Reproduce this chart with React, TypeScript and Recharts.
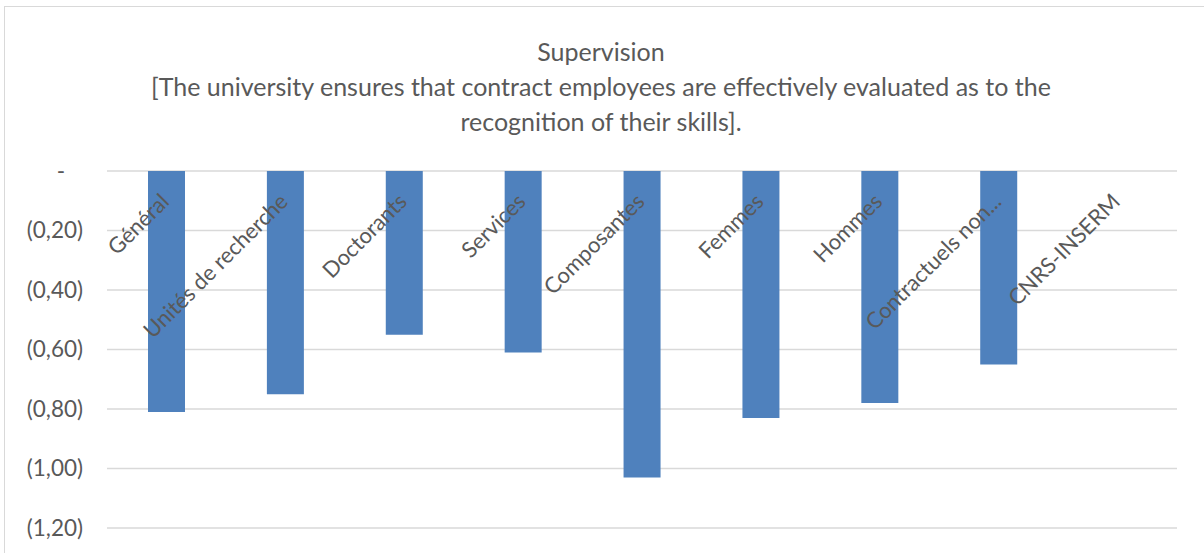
import React from "react";
import { BarChart, Bar, XAxis, YAxis, CartesianGrid } from "recharts";

const categories = [
  "Général",
  "Unités de recherche",
  "Doctorants",
  "Services",
  "Composantes",
  "Femmes",
  "Hommes",
  "Contractuels non...",
  "CNRS-INSERM",
];
const scores = [-0.81, -0.75, -0.55, -0.61, -1.03, -0.83, -0.78, -0.65, 0];
const yTicks = [0, -0.2, -0.4, -0.6, -0.8, -1.0, -1.2];
const titleLines = [
  "Supervision",
  "[The university ensures that contract employees are effectively evaluated as to the",
  "recognition of their skills].",
];

const data = categories.map((name, i) => ({ name, value: scores[i] }));

const FONT = "Lato, 'Open Sans', sans-serif";
const TEXT = "#595959";

const fmt = (v: number) => {
  if (v === 0) return "-";
  return "(" + Math.abs(v).toFixed(2).replace(".", ",") + ")";
};

const YTick = (props: any) => {
  const { x, y, payload } = props;
  const v = payload.value;
  return (
    <text
      x={v === 0 ? x - 18 : x}
      y={y}
      dy="0.35em"
      textAnchor="end"
      fill={TEXT}
      fontSize={22.5}
      fontFamily={FONT}
    >
      {fmt(v)}
    </text>
  );
};

const XTick = (props: any) => {
  const { x, payload } = props;
  const ax = x + 4;
  const ay = 203;
  return (
    <text
      x={ax}
      y={ay}
      textAnchor="end"
      transform={`rotate(-45, ${ax}, ${ay})`}
      fill={TEXT}
      fontSize={22}
      fontFamily={FONT}
    >
      {payload.value}
    </text>
  );
};

export default function App() {
  return (
    <div
      style={{
        position: "absolute",
        left: 0,
        top: 0,
        width: 1204,
        height: 553,
        background: "#fff",
        overflow: "hidden",
        fontFamily: FONT,
      }}
    >
      <div
        style={{
          position: "absolute",
          left: 4,
          top: 6,
          width: 1240,
          height: 600,
          border: "1.5px solid #d9d9d9",
        }}
      />
      <svg
        width={1204}
        height={150}
        style={{ position: "absolute", left: 0, top: 0 }}
      >
        {titleLines.map((line, i) => (
          <text
            key={i}
            x={601}
            y={61 + i * 35}
            textAnchor="middle"
            fill={TEXT}
            fontSize={25}
            fontFamily={FONT}
          >
            {line}
          </text>
        ))}
      </svg>
      <div style={{ position: "absolute", left: 0, top: 0 }}>
        <BarChart
          width={1204}
          height={553}
          data={data}
          margin={{ top: 170, right: 27, bottom: 25, left: 0 }}
        >
          <CartesianGrid
            vertical={false}
            stroke="#d9d9d9"
            strokeWidth={1.5}
          />
          <XAxis
            dataKey="name"
            orientation="top"
            height={1}
            axisLine={false}
            tickLine={false}
            interval={0}
            tick={<XTick />}
          />
          <YAxis
            type="number"
            domain={[-1.2, 0]}
            ticks={yTicks}
            width={107}
            axisLine={false}
            tickLine={false}
            tickSize={0}
            tickMargin={24}
            tick={<YTick />}
          />
          <Bar
            dataKey="value"
            fill="#4f81bd"
            barSize={37}
            isAnimationActive={false}
          />
        </BarChart>
      </div>
    </div>
  );
}
